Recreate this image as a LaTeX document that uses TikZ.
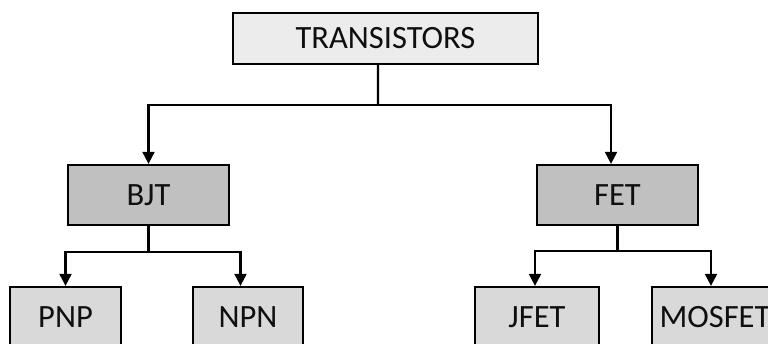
\documentclass[tikz,border=0pt]{standalone}
\definecolor{topgray}{RGB}{236, 236, 236}
\definecolor{midgray}{RGB}{192, 192, 192}
\definecolor{leafgray}{RGB}{217, 217, 217}
\definecolor{inkblack}{RGB}{15, 15, 15}
\usepackage{fontspec}
\setmainfont{Carlito}
\usepackage{tikz}
\usetikzlibrary{arrows.meta, positioning, calc}

\tikzset{
  box/.style={draw=black, line width=1.3pt, align=center, inner sep=0pt, text=inkblack,
    font=\fontsize{18.5}{21}\selectfont},
  rootbox/.style={box, fill=topgray, minimum width=6.1cm, minimum height=1.02cm},
  familybox/.style={box, fill=midgray, minimum width=3.22cm, minimum height=1.2cm},
  leafbox/.style={box, fill=leafgray, minimum height=1.22cm},
  wire/.style={line width=1.2pt, draw=black},
  arrow/.style={wire, -{Triangle[length=6.8pt, width=6.8pt]}}
}

\begin{document}
\begin{tikzpicture}
  \useasboundingbox (0,0) rectangle (15.36,6.86);
  \clip (0,0) rectangle (15.36,6.86);

  % root
  \node[rootbox] (trans) at (7.71, 6.09) {TRANSISTORS};

  % families
  \node[familybox] (bjt) at (2.97, 2.96) {BJT};
  \node[familybox] (fet) at (12.35, 2.96) {FET};

  % leaves
  \node[leafbox, minimum width=2.22cm] (pnp) at (1.31, 0.51) {PNP};
  \node[leafbox, minimum width=2.2cm] (npn) at (4.96, 0.51) {NPN};
  \node[leafbox, minimum width=2.48cm] (jfet) at (10.74, 0.51) {JFET};
  \node[leafbox, minimum width=2.52cm] (mosfet) at (14.30, 0.51) {MOSFET};

  % root to families
  \coordinate (split0) at (7.56, 4.76);
  \draw[wire] ([xshift=-0.15cm]trans.south) -- (split0);
  \draw[arrow] (split0) -| (bjt.north);
  \draw[arrow] (split0) -| ([xshift=-0.13cm]fet.north);

  % BJT to leaves
  \draw[wire] (bjt.south) -- ++(0,-0.52) coordinate (split1);
  \draw[arrow] (split1) -| (pnp.north);
  \draw[arrow] (split1) -| ([xshift=-0.15cm]npn.north);

  % FET to leaves
  \draw[wire] (fet.south) -- ++(0,-0.49) coordinate (split2);
  \draw[arrow] (split2) -| ([xshift=-0.04cm]jfet.north);
  \draw[arrow] (split2) -| ([xshift=-0.08cm]mosfet.north);
\end{tikzpicture}
\end{document}
